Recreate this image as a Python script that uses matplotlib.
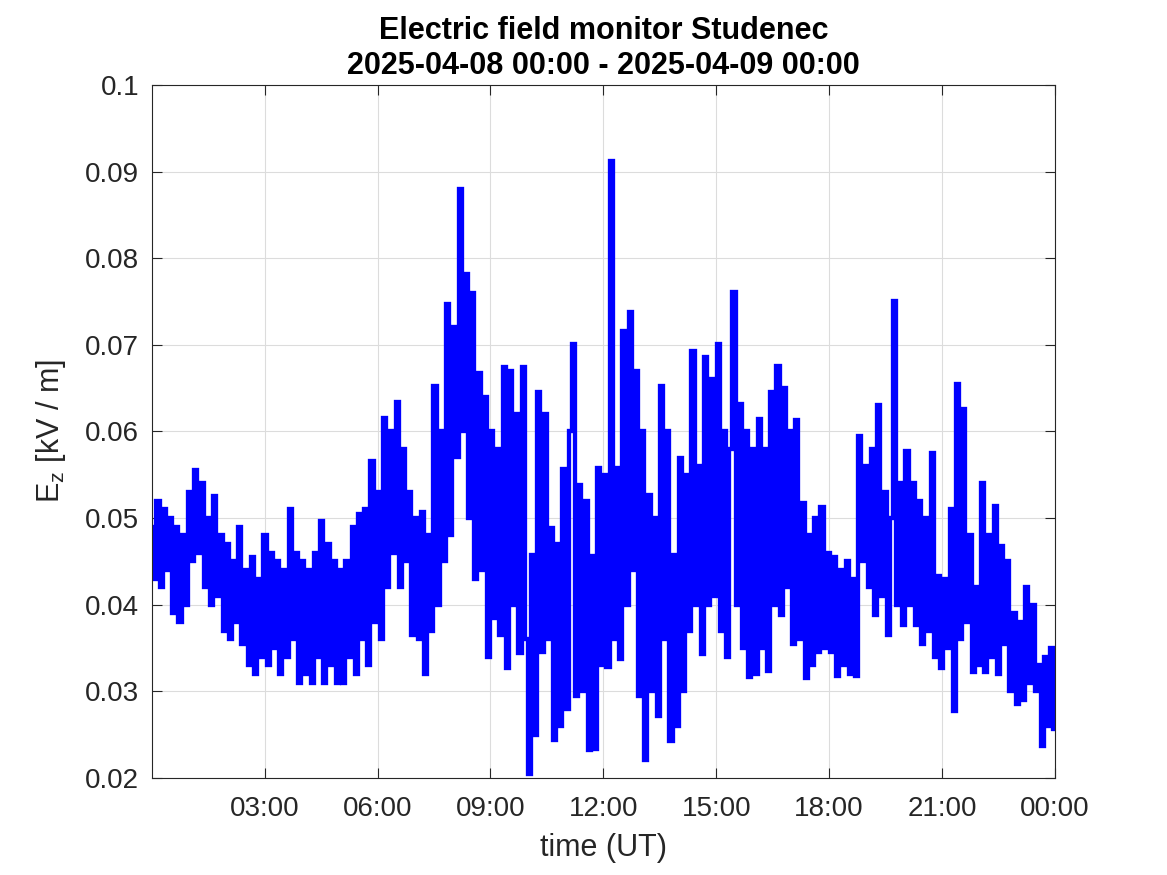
import numpy as np
import matplotlib
matplotlib.use("Agg")
import matplotlib.pyplot as plt
from matplotlib.ticker import FuncFormatter

plt.rcParams['font.family'] = ['Liberation Sans', 'DejaVu Sans']

# E_z samples every 5 minutes (kV/m), one row per hour
ez_rows = [
    [0.049, 0.043, 0.052, 0.042, 0.051, 0.044, 0.050, 0.039, 0.049, 0.038, 0.048, 0.040],
    [0.053, 0.045, 0.0555, 0.046, 0.054, 0.042, 0.050, 0.040, 0.0525, 0.041, 0.048, 0.037],
    [0.047, 0.036, 0.045, 0.038, 0.049, 0.0355, 0.044, 0.033, 0.0455, 0.032, 0.043, 0.034],
    [0.048, 0.033, 0.046, 0.035, 0.045, 0.032, 0.044, 0.034, 0.051, 0.036, 0.046, 0.031],
    [0.045, 0.032, 0.044, 0.031, 0.046, 0.034, 0.0497, 0.031, 0.047, 0.033, 0.045, 0.031],
    [0.044, 0.031, 0.045, 0.034, 0.049, 0.032, 0.0505, 0.036, 0.051, 0.033, 0.0566, 0.038],
    [0.053, 0.036, 0.0616, 0.042, 0.060, 0.046, 0.0634, 0.042, 0.058, 0.045, 0.053, 0.0365],
    [0.050, 0.036, 0.0507, 0.032, 0.048, 0.037, 0.0652, 0.040, 0.060, 0.045, 0.0747, 0.048],
    [0.072, 0.057, 0.088, 0.060, 0.0782, 0.050, 0.076, 0.043, 0.0667, 0.044, 0.064, 0.034],
    [0.060, 0.0385, 0.058, 0.0365, 0.0674, 0.0327, 0.067, 0.040, 0.062, 0.0344, 0.0674, 0.036],
    [0.0205, 0.0457, 0.025, 0.0645, 0.0345, 0.062, 0.036, 0.0489, 0.0244, 0.047, 0.026, 0.0556],
    [0.028, 0.060, 0.0701, 0.0295, 0.0538, 0.030, 0.052, 0.0232, 0.0456, 0.0233, 0.0558, 0.033],
    [0.055, 0.0328, 0.0912, 0.036, 0.0558, 0.0337, 0.0716, 0.040, 0.0738, 0.044, 0.067, 0.0295],
    [0.060, 0.0221, 0.0526, 0.030, 0.050, 0.0272, 0.0652, 0.036, 0.060, 0.0242, 0.0457, 0.026],
    [0.0569, 0.030, 0.055, 0.037, 0.0693, 0.040, 0.056, 0.0343, 0.0686, 0.040, 0.066, 0.041],
    [0.0701, 0.037, 0.060, 0.0339, 0.058, 0.0761, 0.040, 0.0632, 0.035, 0.060, 0.0317, 0.058],
    [0.032, 0.0614, 0.035, 0.058, 0.0323, 0.0645, 0.040, 0.0676, 0.0388, 0.065, 0.042, 0.060],
    [0.0355, 0.0613, 0.036, 0.0517, 0.0315, 0.048, 0.033, 0.050, 0.0345, 0.0513, 0.035, 0.046],
    [0.0345, 0.0455, 0.0318, 0.044, 0.033, 0.045, 0.032, 0.043, 0.0318, 0.0595, 0.045, 0.056],
    [0.042, 0.058, 0.0388, 0.0631, 0.041, 0.053, 0.0365, 0.050, 0.075, 0.040, 0.054, 0.0376],
    [0.0577, 0.040, 0.054, 0.0376, 0.052, 0.0355, 0.050, 0.037, 0.0575, 0.034, 0.0433, 0.0327],
    [0.043, 0.035, 0.051, 0.0277, 0.0655, 0.036, 0.0626, 0.038, 0.048, 0.0322, 0.042, 0.033],
    [0.054, 0.0322, 0.048, 0.034, 0.0514, 0.032, 0.0468, 0.0355, 0.045, 0.030, 0.039, 0.0285],
    [0.038, 0.029, 0.042, 0.031, 0.040, 0.030, 0.033, 0.0237, 0.034, 0.026, 0.035, 0.0256],
]
ez = np.array(ez_rows).ravel()
t_hours = np.arange(len(ez)) * 24.0 / (len(ez) - 1)

xtick_pos = [3, 6, 9, 12, 15, 18, 21, 24]
xtick_labels = ['03:00', '06:00', '09:00', '12:00', '15:00', '18:00', '21:00', '00:00']
yticks = [0.02, 0.03, 0.04, 0.05, 0.06, 0.07, 0.08, 0.09, 0.1]

dark = '#262626'

fig = plt.figure(figsize=(11.67, 8.75), dpi=100)
ax = fig.add_axes([0.13, 0.111, 0.774, 0.792])

ax.plot(t_hours, ez, color=(0, 0, 1), linewidth=3.1, drawstyle='steps-mid',
        solid_joinstyle='miter')

ax.set_xlim(0, 24)
ax.set_ylim(0.02, 0.1)
ax.set_xticks(xtick_pos)
ax.set_xticklabels(xtick_labels)
ax.set_yticks(yticks)
ax.yaxis.set_major_formatter(FuncFormatter(lambda v, p: '%g' % round(v, 3)))

ax.grid(True, color='#dcdcdc', linewidth=0.8)
ax.set_axisbelow(True)
ax.tick_params(direction='in', length=7, width=0.8, top=True, right=True,
               labelsize=20, colors=dark)
ax.tick_params(axis='x', pad=13)
ax.tick_params(axis='y', pad=9)
for s in ax.spines.values():
    s.set_color(dark)
    s.set_linewidth(0.8)

ax.set_xlabel('time (UT)', fontsize=22, color=dark, labelpad=8)
ax.set_ylabel(r'E$_\mathregular{z}$ [kV / m]', fontsize=22, color=dark, labelpad=12)
ax.set_title('Electric field monitor Studenec\n2025-04-08 00:00 - 2025-04-09 00:00',
             fontsize=22, fontweight='bold', color='black', pad=8, linespacing=1.2)

fig.savefig('out.png', dpi=100, facecolor='white')
